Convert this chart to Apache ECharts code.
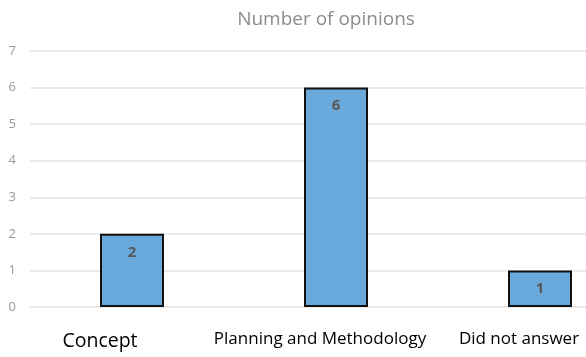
<!DOCTYPE html>
<html>
<head>
<meta charset="utf-8">
<script src="https://cdn.jsdelivr.net/npm/echarts@6/dist/echarts.min.js"></script>
<style>
  html, body { margin: 0; padding: 0; background: #fff; }
  #main { width: 586px; height: 357px; }
</style>
</head>
<body>
<div id="main"></div>
<script>
// 数据
var categories = ['Concept', 'Planning and Methodology', 'Did not answer'];
var opinions = [2, 6, 1];
var yTicks = [0, 1, 2, 3, 4, 5, 6, 7];

// 每个类别标签的字号和左移（原图标签没有居中在柱子上）
var labelSizes = [19.5, 17, 17];
var labelShift = [32, 16, 21];

var myChart = echarts.init(document.getElementById('main'));
myChart.setOption({
  backgroundColor: '#fff',
  animation: false,
  title: {
    text: 'Number of opinions',
    left: 321,
    top: 5,
    textAlign: 'center',
    textStyle: {
      color: '#8c8c8c',
      fontSize: 19,
      fontWeight: 'normal',
      fontFamily: 'Open Sans'
    }
  },
  grid: {
    left: 30,
    width: 612,   // 图表右边超出画面，最后一个柱子靠近右边缘
    top: 51,
    height: 256,
    outerBoundsMode: 'none'
  },
  xAxis: {
    type: 'category',
    data: categories.map(function (c, i) {
      return {
        value: c,
        textStyle: {
          fontSize: labelSizes[i],
          padding: [0, labelShift[i] * 2, 0, 0]
        }
      };
    }),
    axisLine: { show: false },
    axisTick: { show: false },
    axisLabel: {
      color: '#000',
      fontFamily: 'Open Sans',
      margin: 24,
      interval: 0
    }
  },
  yAxis: {
    type: 'value',
    min: yTicks[0],
    max: yTicks[yTicks.length - 1],
    interval: 1,
    axisLine: { show: false },
    axisTick: { show: false },
    axisLabel: {
      color: '#9a9a9a',
      fontSize: 13,
      fontFamily: 'Open Sans',
      margin: 14
    },
    splitLine: {
      lineStyle: { color: '#e3e3e3', width: 1.5 }
    }
  },
  series: [{
    name: 'Number of opinions',
    type: 'bar',
    data: opinions,
    barWidth: 64,
    itemStyle: {
      color: '#6aa9dc',
      borderColor: '#111',
      borderWidth: 2
    },
    label: {
      show: true,
      position: 'insideTop',
      distance: 11,
      color: '#595959',
      fontSize: 15,
      fontWeight: 'bold',
      fontFamily: 'Open Sans'
    }
  }]
});
</script>
</body>
</html>
